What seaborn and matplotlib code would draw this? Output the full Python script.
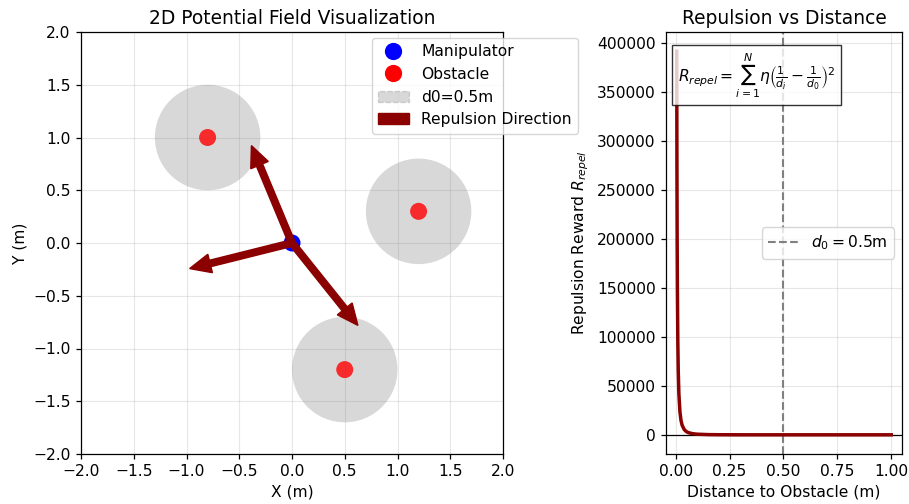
import numpy as np
import pandas as pd
import matplotlib
matplotlib.use("Agg")
import matplotlib.pyplot as plt
from matplotlib.patches import Circle, Patch
from matplotlib.lines import Line2D
import seaborn as sns

# ---- data ----
manipulator = [0.0, 0.0]
obstacle_x = [-0.8, 1.2, 0.5]
obstacle_y = [1.0, 0.3, -1.2]
d0 = 0.5
arrow_len = 0.8

distance = [0.005, 0.006, 0.007, 0.008, 0.010, 0.012, 0.015, 0.020, 0.025, 0.030,
            0.040, 0.050, 0.060, 0.080, 0.100, 0.150, 0.200, 0.300, 0.400, 0.500,
            0.600, 0.800, 1.000]
reward = [392040, 271150, 198410, 151290, 96040, 66150, 41820, 23040, 14440, 9818,
          5290, 3240, 2151, 1102, 640, 218, 90, 18, 2.5, 0,
          0, 0, 0]

xticks_left = [-2.0, -1.5, -1.0, -0.5, 0.0, 0.5, 1.0, 1.5, 2.0]

S = 1.12
plt.rcParams.update({
    "font.size": 10 * S,
    "axes.labelsize": 10 * S,
    "xtick.labelsize": 10 * S,
    "ytick.labelsize": 10 * S,
    "legend.fontsize": 10 * S,
    "axes.linewidth": 0.8 * S,
    "xtick.major.width": 0.8 * S,
    "ytick.major.width": 0.8 * S,
    "xtick.major.size": 3.5 * S,
    "ytick.major.size": 3.5 * S,
})

fig = plt.figure(figsize=(9.09, 5.04), dpi=100)
ax1 = fig.add_axes([81 / 909, 1 - 454 / 504, 422 / 909, 422 / 504])
ax2 = fig.add_axes([666 / 909, 1 - 454 / 504, 236 / 909, 422 / 504])

# ---- left panel ----
for ox, oy in zip(obstacle_x, obstacle_y):
    ax1.add_patch(Circle((ox, oy), d0, facecolor="gray", edgecolor="none",
                         alpha=0.3, zorder=1))

obs_df = pd.DataFrame({"x": obstacle_x, "y": obstacle_y})
man_df = pd.DataFrame({"x": [manipulator[0]], "y": [manipulator[1]]})
sns.scatterplot(data=man_df, x="x", y="y", ax=ax1, color="blue", s=150,
                edgecolor="none", zorder=3)
sns.scatterplot(data=obs_df, x="x", y="y", ax=ax1, color="red", s=150, alpha=0.8,
                edgecolor="none", zorder=3)

for ox, oy in zip(obstacle_x, obstacle_y):
    v = np.array([manipulator[0] - ox, manipulator[1] - oy])
    u = v / np.linalg.norm(v)
    ax1.arrow(manipulator[0], manipulator[1], u[0] * arrow_len, u[1] * arrow_len,
              width=0.062, head_width=0.18, head_length=0.2,
              fc="darkred", ec="darkred", alpha=1.0, zorder=4)

ax1.set_xlim(-2, 2)
ax1.set_ylim(-2, 2)
ax1.set_xticks(xticks_left)
ax1.set_yticks(xticks_left)
ax1.set_aspect("equal")
ax1.grid(True, alpha=0.3)
ax1.set_axisbelow(True)
ax1.set_xlabel("X (m)")
ax1.set_ylabel("Y (m)")
ax1.set_title("2D Potential Field Visualization", fontsize=12 * S)

handles = [
    Line2D([], [], marker="o", color="w", markerfacecolor="blue", markersize=12 * S,
           linestyle="none", label="Manipulator"),
    Line2D([], [], marker="o", color="w", markerfacecolor="red", markersize=12 * S,
           linestyle="none", label="Obstacle"),
    Patch(facecolor="gray", edgecolor="gray", alpha=0.3, linestyle="--", label="d0=0.5m"),
    Patch(facecolor="darkred", edgecolor="darkred", label="Repulsion Direction"),
]
leg = ax1.legend(handles=handles, loc="upper right", framealpha=0.8,
                 bbox_to_anchor=(586 / 909, 1 - 30 / 504),
                 bbox_transform=fig.transFigure)

# ---- right panel ----
rep_df = pd.DataFrame({"d": distance, "r": reward})
sns.lineplot(data=rep_df, x="d", y="r", ax=ax2, color="darkred", linewidth=2.5, zorder=3)
ax2.axhline(0, color="black", linewidth=0.8 * S, zorder=2)
ax2.axvline(d0, color="gray", linestyle="--", linewidth=1.5, label=r"$d_0 = 0.5$m")
ax2.set_xticks([0.0, 0.25, 0.5, 0.75, 1.0])
ax2.set_yticks(np.arange(0, 400001, 50000))
ax2.grid(True, alpha=0.3)
ax2.set_xlabel("Distance to Obstacle (m)")
ax2.set_ylabel(r"Repulsion Reward $R_{repel}$")
ax2.set_title("Repulsion vs Distance", fontsize=12 * S)
ax2.legend(loc="center right")
ax2.text(0.05, 0.955,
         r"$R_{repel} = \sum_{i=1}^{N} \eta \left(\frac{1}{d_i} - \frac{1}{d_0}\right)^2$",
         transform=ax2.transAxes, fontsize=11.2, va="top",
         bbox=dict(facecolor="white", alpha=0.8), zorder=5)

fig.savefig("out.png", dpi=100)
